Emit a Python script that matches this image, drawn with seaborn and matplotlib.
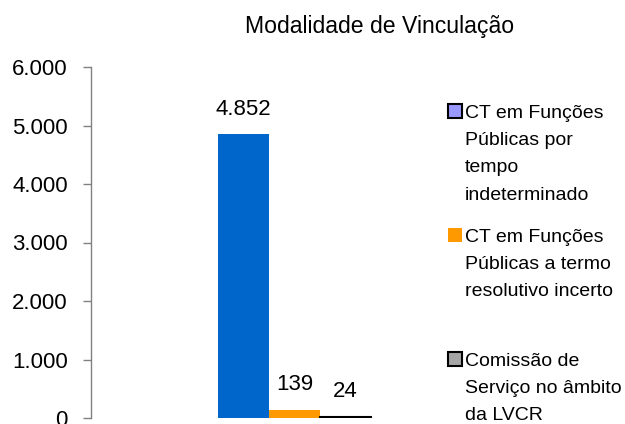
import matplotlib
matplotlib.use("Agg")
import matplotlib.pyplot as plt
import seaborn as sns
import pandas as pd
from matplotlib.patches import Patch

# ---- data ----
series = [
    "CT em Funções Públicas por tempo indeterminado",
    "CT em Funções Públicas a termo resolutivo incerto",
    "Comissão de Serviço no âmbito da LVCR",
]
valores = [4852, 139, 24]
legend_lines = [
    ["CT em Funções", "Públicas por", "tempo", "indeterminado"],
    ["CT em Funções", "Públicas a termo", "resolutivo incerto"],
    ["Comissão de", "Serviço no âmbito", "da LVCR"],
]
yticks = [0, 1000, 2000, 3000, 4000, 5000, 6000]
titulo = "Modalidade de Vinculação"

bar_colors = ["#0066CC", "#FF9900", "#A6A6A6"]
bar_edges = ["none", "none", "black"]
legend_colors = ["#9999FF", "#FF9900", "#A6A6A6"]
legend_edges = ["black", "none", "black"]


def fmt(v):
    return f"{int(round(v)):,}".replace(",", ".")


sns.set_theme(style="white")
plt.rcParams['font.family'] = ['Liberation Sans', 'DejaVu Sans']
plt.rcParams['text.color'] = '#000000'

W, H = 625, 424
fig = plt.figure(figsize=(W / 100, H / 100), dpi=100)
ax_left, ax_right, ax_top, ax_bottom = 91, 440, 67, 418
ax = fig.add_axes([ax_left / W, 1 - ax_bottom / H,
                   (ax_right - ax_left) / W, (ax_bottom - ax_top) / H])

df = pd.DataFrame({"grupo": [""] * len(series), "serie": series, "valor": valores})
sns.barplot(data=df, x="grupo", y="valor", hue="serie", hue_order=series,
            palette=bar_colors, width=0.8, dodge=True, legend=False,
            saturation=1, ax=ax)

for cont, ec in zip(ax.containers, bar_edges):
    for p in cont:
        if ec != "none":
            p.set_edgecolor(ec)
            p.set_linewidth(1.5)
        else:
            p.set_linewidth(0)
    ax.bar_label(cont, labels=[fmt(v) for v in cont.datavalues],
                 padding=10.5, fontsize=16, color="black")

ax.set_ylim(0, 6000)
ax.set_yticks(yticks)
ax.set_yticklabels([fmt(t) for t in yticks])
unit_px = 51 / (0.8 / 3)
center_px = 294.5
ax.set_xlim(-(center_px - ax_left) / unit_px, (ax_right - center_px) / unit_px)
ax.set_xlabel("")
ax.set_ylabel("")
ax.tick_params(axis='y', left=True, direction='out', length=5.8, width=1,
               color='#808080', pad=10.8, labelsize=16, labelcolor='black')
ax.tick_params(axis='x', bottom=False, labelbottom=False)
for s in ["top", "right", "bottom"]:
    ax.spines[s].set_visible(False)
ax.spines["left"].set_color("#808080")
ax.spines["left"].set_linewidth(1)

fig.text(380 / W, 1 - 26 / H, titulo, ha='center', va='center', fontsize=16.6)

tops = [104, 228, 352]
for i in range(len(series)):
    n = len(legend_lines[i])
    handles = [Patch(facecolor=legend_colors[i], edgecolor=legend_edges[i],
                     linewidth=1.5)]
    handles += [Patch(facecolor='none', edgecolor='none') for _ in range(n - 1)]
    fig.legend(handles, legend_lines[i], loc='upper left',
               bbox_to_anchor=(448 / W, 1 - tops[i] / H),
               bbox_transform=fig.transFigure, frameon=False, borderpad=0,
               borderaxespad=0, handlelength=0.7, handleheight=0.7,
               handletextpad=0.18, labelspacing=0.5, fontsize=14)

fig.savefig("out.png", dpi=100)
